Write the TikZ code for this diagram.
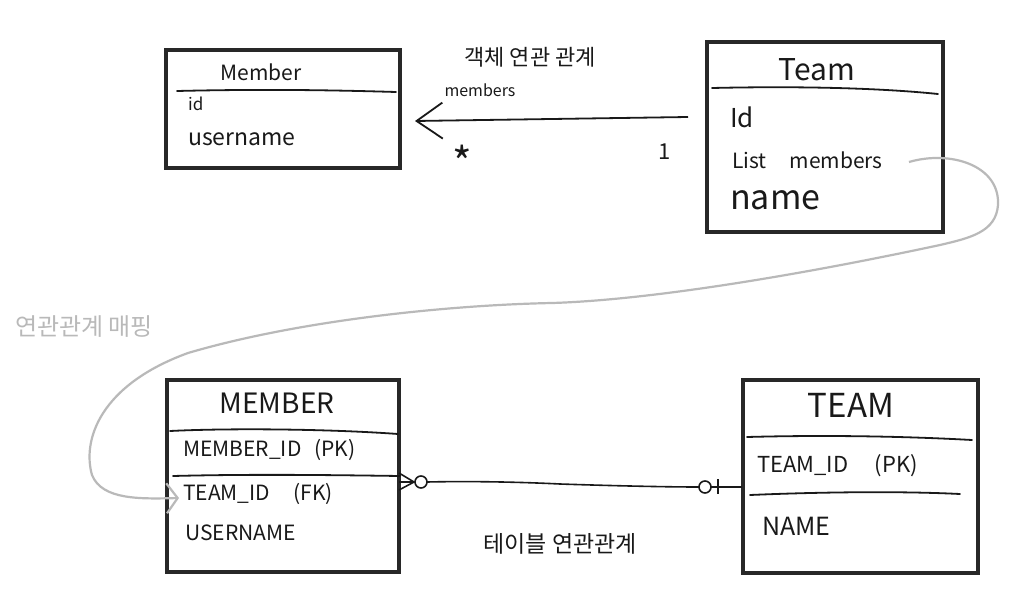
\documentclass[tikz,border=0pt]{standalone}
\usepackage{fontspec}
\setmainfont{Noto Sans CJK KR}
\usetikzlibrary{arrows.meta,calc}
\definecolor{ink}{RGB}{25,25,25}
\definecolor{boxink}{RGB}{40,40,40}
\definecolor{mapgray}{RGB}{185,185,185}
\begin{document}
\begin{tikzpicture}[x=1pt,y=-1pt,
  entity/.style={draw=boxink,line width=3.6pt,rectangle,inner sep=0pt},
  sepline/.style={draw=ink,line width=1.8pt,line cap=round},
  txt/.style={inner sep=0pt,text=ink,anchor=west},
  ctxt/.style={inner sep=0pt,text=ink},
  objline/.style={draw=ink,line width=1.8pt,-{Straight Barb[length=26pt,width=36pt,line width=1.8pt]}},
  erline/.style={draw=ink,line width=1.6pt},
  mapline/.style={draw=mapgray,line width=2.2pt,-{Straight Barb[length=11pt,width=30pt,line width=2.2pt]}}]
\useasboundingbox (0,0) rectangle (1020,602);
\fill[white] (0,0) rectangle (1020,602);

% boxes
\node[entity,minimum width=234pt,minimum height=118pt] (mbr) at (283,109) {};
\node[entity,minimum width=236pt,minimum height=190pt] (tm) at (825,137) {};
\node[entity,minimum width=232pt,minimum height=192pt] (MBR) at (283,476) {};
\node[entity,minimum width=235pt,minimum height=193pt] (TM) at (860.5,476.5) {};

% separators
\draw[sepline] (177,91) .. controls (260,89) and (330,90) .. (396,92);
\draw[sepline] (712,88) .. controls (800,86) and (880,88) .. (938,94);
\draw[sepline] (170,431) .. controls (230,428) and (330,429) .. (398,434);
\draw[sepline] (173,476) .. controls (250,474) and (330,475) .. (400,476);
\draw[sepline] (747,437) .. controls (820,435) and (900,436) .. (972,440);
\draw[sepline] (750,495) .. controls (820,492) and (900,491) .. (960,494);

% Member (object)
\node[ctxt,font=\fontsize{21}{21}\selectfont] (mt) at (261,72) {Member};
\node[txt,font=\fontsize{17}{17}\selectfont] (mid) at (188,104) {id};
\node[txt,font=\fontsize{23}{23}\selectfont] (mun) at (188,139) {username};

% Team (object)
\node[ctxt,font=\fontsize{30}{30}\selectfont] (tt) at (817,70) {Team};
\node[txt,font=\fontsize{26}{26}\selectfont] (tid) at (730,117) {Id};
\node[txt,font=\fontsize{21}{21}\selectfont] (lm) at (732,160) {List\hspace{1.1em}members};
\node[txt,font=\fontsize{34}{34}\selectfont] (tn) at (730,200) {name};

% object relation
\coordinate (a1) at (688,117);
\coordinate (a2) at (415,121);
\draw[objline] (a1) -- (a2);
\node[ctxt,font=\fontsize{22}{22}\selectfont] (objlab) at (530,57) {객체 연관 관계};
\node[ctxt,font=\fontsize{16}{16}\selectfont] (memlab) at (480,90) {members};
\node[ctxt,font=\fontsize{42}{42}\selectfont] (many) at (462,162) {*};
\node[ctxt,font=\fontsize{22}{22}\selectfont] (one) at (665,152) {1};

% MEMBER (table)
\node[ctxt,font=\fontsize{28}{28}\selectfont] (MT) at (277,403) {MEMBER};
\node[txt,font=\fontsize{21}{21}\selectfont] (MID) at (183,450) {MEMBER\_ID\hspace{0.6em}(PK)};
\node[txt,font=\fontsize{21}{21}\selectfont] (MFK) at (183,494) {TEAM\_ID\hspace{1.1em}(FK)};
\node[txt,font=\fontsize{21}{21}\selectfont] (MUN) at (185,533) {USERNAME};

% TEAM (table)
\node[ctxt,font=\fontsize{33}{33}\selectfont] (TT) at (851,405) {TEAM};
\node[txt,font=\fontsize{22}{22}\selectfont] (TID) at (757,466) {TEAM\_ID\hspace{1.2em}(PK)};
\node[txt,font=\fontsize{25}{25}\selectfont] (TN) at (762,526) {NAME};

% table relation
\coordinate (eL) at (399,482);
\coordinate (eR) at (742,487);
\draw[erline] (eL) -- (412,482);
\draw[erline] (399,473) -- (414,482) -- (399,490);
\draw[erline] (421,482) circle (6pt);
\draw[erline] (427,482) .. controls (470,481) and (520,482) .. (560,484) .. controls (620,486) and (670,487) .. (699,487);
\draw[erline] (705,487) circle (6pt);
\draw[erline] (718,479) -- (718,494);
\draw[erline] (711,487) -- (eR);
\node[ctxt,font=\fontsize{23}{23}\selectfont] (tablab) at (560,544) {테이블 연관관계};

% mapping
\node[ctxt,font=\fontsize{24}{24}\selectfont,text=mapgray] (maplab) at (84,327) {연관관계 매핑};
\coordinate (c1) at ($(lm.east)+(26,2)$);
\coordinate (c2) at ($(MFK.west)+(-4,4)$);
\draw[mapline] (c1) .. controls (950,150) and (1000,165) .. (998,205)
  .. controls (996,232) and (970,238) .. (940,245)
  .. controls (800,275) and (650,300) .. (552,303)
  .. controls (450,305) and (300,320) .. (188,353)
  .. controls (100,385) and (82,440) .. (92,475)
  .. controls (102,500) and (140,499) .. (c2);
\end{tikzpicture}
\end{document}
